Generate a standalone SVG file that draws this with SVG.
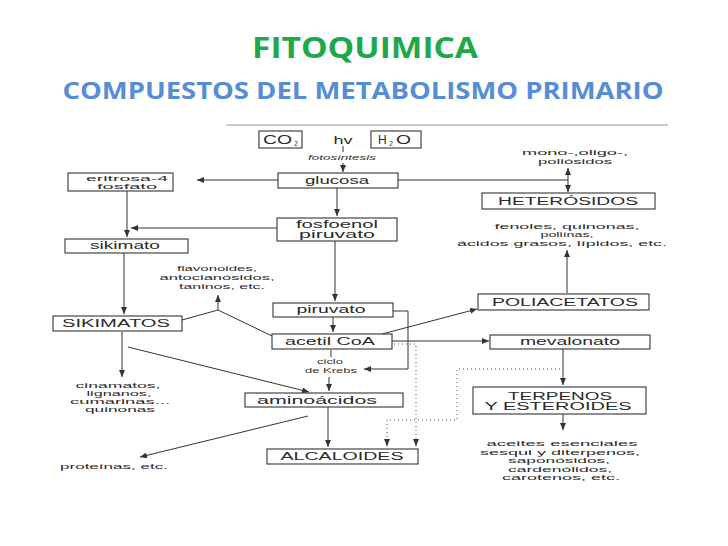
<svg xmlns="http://www.w3.org/2000/svg" width="728" height="546" viewBox="0 0 728 546">
<style>
.bx{fill:#fff;stroke:#333;stroke-width:1.1}
.t{font-family:"Liberation Sans",Arial,sans-serif;font-size:10px;fill:#2a2a2a;text-anchor:middle}
.st{font-family:"Liberation Sans",Arial,sans-serif;font-size:12px;fill:#2a2a2a;text-anchor:start}
.m{font-family:"Liberation Sans",Arial,sans-serif;font-size:8px;fill:#2a2a2a;text-anchor:middle}
.s{font-family:"Liberation Sans",Arial,sans-serif;font-size:6.5px;fill:#333;text-anchor:middle}
.c{fill:none;stroke:#333;stroke-width:1}
.d{fill:none;stroke:#555;stroke-width:1;stroke-dasharray:1 3}
</style>
<defs>
<marker id="a" markerUnits="userSpaceOnUse" markerWidth="7" markerHeight="6" refX="7" refY="3" orient="auto">
<path d="M0,0 L7,3 L0,6 z" fill="#333"/>
</marker>
<marker id="as" markerUnits="userSpaceOnUse" markerWidth="7" markerHeight="6" refX="0" refY="3" orient="auto">
<path d="M7,0 L0,3 L7,6 z" fill="#333"/>
</marker>
</defs>
<rect width="728" height="546" fill="#fff"/>
<g id="title">
<text x="365" y="58" font-family="'Open Sans','Liberation Sans',sans-serif" font-weight="bold" font-size="29" fill="#1fa84a" text-anchor="middle" textLength="226" lengthAdjust="spacingAndGlyphs">FITOQUIMICA</text>
<text x="363" y="99" font-family="'Open Sans','Liberation Sans',sans-serif" font-weight="bold" font-size="24" fill="#558ed5" text-anchor="middle" textLength="601" lengthAdjust="spacingAndGlyphs">COMPUESTOS DEL METABOLISMO PRIMARIO</text>
</g>
<line x1="226" y1="125" x2="668" y2="125" stroke="#999" stroke-width="1"/>
<g id="connectors">
<path class="c" d="M343,146 V152"/>
<path class="c" d="M343,163 V172" marker-end="url(#a)"/>
<path class="c" d="M278,180 H197" marker-end="url(#a)"/>
<path class="c" d="M398,180 H568"/>
<path class="c" d="M568,168 V192" marker-start="url(#as)" marker-end="url(#a)"/>
<path class="c" d="M337,188 V216" marker-end="url(#a)"/>
<path class="c" d="M277,228 H131" marker-end="url(#a)"/>
<path class="c" d="M127,191 V237" marker-end="url(#a)"/>
<path class="c" d="M335,241 V301" marker-end="url(#a)"/>
<path class="c" d="M124,253 V314" marker-end="url(#a)"/>
<path class="c" d="M182,320 L218,310 L272,336"/>
<path class="c" d="M218,310 V295" marker-end="url(#a)"/>
<path class="c" d="M333,317 V332" marker-end="url(#a)"/>
<path class="c" d="M393,311 H408 V369 H364" marker-end="url(#a)"/>
<path class="c" d="M382,334 L477,309" marker-end="url(#a)"/>
<path class="c" d="M567,293 V250" marker-end="url(#a)"/>
<path class="c" d="M392,341 H489" marker-end="url(#a)"/>
<path class="c" d="M331,350 V357"/>
<path class="c" d="M329,377 V391" marker-end="url(#a)"/>
<path class="c" d="M122,332 V377" marker-end="url(#a)"/>
<path class="c" d="M128,347 L309,392" marker-end="url(#a)"/>
<path class="c" d="M328,407 V447" marker-end="url(#a)"/>
<path class="c" d="M308,416 L140,457" marker-end="url(#a)"/>
<path class="c" d="M563,349 V385" marker-end="url(#a)"/>
<path class="c" d="M563,414 V430" marker-end="url(#a)"/>
<path class="d" d="M560,369 H457 V420 H387 V440"/>
<path class="d" d="M394,344 H416 V440"/>
<path class="c" d="M387,440 V446" marker-end="url(#a)"/>
<path class="c" d="M416,440 V446" marker-end="url(#a)"/>
</g>
<g id="co2"><rect class="bx" x="259" y="131" width="43" height="17"/><text class="st" x="263" y="144" textLength="29" lengthAdjust="spacingAndGlyphs">CO</text><text class="s" x="296" y="146">2</text></g>
<g id="hv"><text class="t" x="343" y="144" font-size="12" textLength="19" lengthAdjust="spacingAndGlyphs">hv</text></g>
<g id="h2o"><rect class="bx" x="371" y="131" width="50" height="17"/><text class="st" x="378" y="144">H</text><text class="s" x="391" y="146">2</text><text class="st" x="396" y="144" textLength="15" lengthAdjust="spacingAndGlyphs">O</text></g>
<g id="fotosintesis"><text class="s" x="342" y="160" font-style="italic" textLength="68" lengthAdjust="spacingAndGlyphs">fotosíntesis</text></g>
<g id="eritrosa"><rect class="bx" x="68" y="173" width="105" height="18"/><text class="m" x="127" y="181" textLength="82" lengthAdjust="spacingAndGlyphs">eritrosa-4</text><text class="m" x="127" y="189" textLength="60" lengthAdjust="spacingAndGlyphs">fosfato</text></g>
<g id="glucosa"><rect class="bx" x="278" y="173" width="120" height="15"/><text class="t" x="337" y="184" textLength="64" lengthAdjust="spacingAndGlyphs">glucosa</text></g>
<g id="fosfoenol"><rect class="bx" x="277" y="218" width="120" height="23"/><text class="t" x="337" y="228" textLength="82" lengthAdjust="spacingAndGlyphs">fosfoenol</text><text class="t" x="337" y="238" textLength="76" lengthAdjust="spacingAndGlyphs">piruvato</text></g>
<g id="sikimato"><rect class="bx" x="65" y="239" width="123" height="14"/><text class="t" x="125" y="249" textLength="70" lengthAdjust="spacingAndGlyphs">sikimato</text></g>
<g id="mono"><text class="m" x="575" y="155" textLength="106" lengthAdjust="spacingAndGlyphs">mono-,oligo-,</text><text class="m" x="575" y="164" textLength="74" lengthAdjust="spacingAndGlyphs">poliósidos</text></g>
<g id="heterosidos"><rect class="bx" x="482" y="193" width="173" height="16"/><text class="t" x="568" y="205" textLength="140" lengthAdjust="spacingAndGlyphs">HETERÓSIDOS</text></g>
<g id="fenoles"><text class="m" x="567" y="229" textLength="145" lengthAdjust="spacingAndGlyphs">fenoles, quinonas,</text><text class="m" x="567" y="237" textLength="53" lengthAdjust="spacingAndGlyphs">poliínas,</text><text class="m" x="562" y="246" textLength="210" lengthAdjust="spacingAndGlyphs">ácidos grasos, lípidos, etc.</text></g>
<g id="flavonoides"><text class="m" x="217" y="271" textLength="80" lengthAdjust="spacingAndGlyphs">flavonoides,</text><text class="m" x="217" y="280" textLength="115" lengthAdjust="spacingAndGlyphs">antocianósidos,</text><text class="m" x="222" y="289" textLength="86" lengthAdjust="spacingAndGlyphs">taninos, etc.</text></g>
<g id="sikimatos"><rect class="bx" x="53" y="316" width="129" height="15"/><text class="t" x="116" y="327" textLength="108" lengthAdjust="spacingAndGlyphs">SIKIMATOS</text></g>
<g id="piruvato"><rect class="bx" x="273" y="303" width="120" height="14"/><text class="t" x="331" y="313" textLength="69" lengthAdjust="spacingAndGlyphs">piruvato</text></g>
<g id="acetilcoa"><rect class="bx" x="272" y="334" width="120" height="15"/><text class="t" x="330" y="345" textLength="90" lengthAdjust="spacingAndGlyphs">acetil CoA</text></g>
<g id="poliacetatos"><rect class="bx" x="478" y="294" width="171" height="16"/><text class="t" x="565" y="306" textLength="146" lengthAdjust="spacingAndGlyphs">POLIACETATOS</text></g>
<g id="mevalonato"><rect class="bx" x="490" y="335" width="160" height="14"/><text class="t" x="570" y="345" textLength="100" lengthAdjust="spacingAndGlyphs">mevalonato</text></g>
<g id="krebs"><text class="s" x="330" y="364" textLength="26" lengthAdjust="spacingAndGlyphs">ciclo</text><text class="s" x="331" y="373" textLength="52" lengthAdjust="spacingAndGlyphs">de Krebs</text></g>
<g id="cinamatos"><text class="m" x="118" y="388" textLength="85" lengthAdjust="spacingAndGlyphs">cinamatos,</text><text class="m" x="119" y="396" textLength="65" lengthAdjust="spacingAndGlyphs">lignanos,</text><text class="m" x="120" y="404" textLength="100" lengthAdjust="spacingAndGlyphs">cumarinas...</text><text class="m" x="120" y="412" textLength="70" lengthAdjust="spacingAndGlyphs">quinonas</text></g>
<g id="aminoacidos"><rect class="bx" x="245" y="393" width="158" height="14"/><text class="t" x="317" y="404" textLength="120" lengthAdjust="spacingAndGlyphs">aminoácidos</text></g>
<g id="terpenos"><rect class="bx" x="473" y="387" width="173" height="27"/><text class="t" x="560" y="400" textLength="104" lengthAdjust="spacingAndGlyphs">TERPENOS</text><text class="t" x="558" y="410" textLength="147" lengthAdjust="spacingAndGlyphs">Y ESTEROIDES</text></g>
<g id="alcaloides"><rect class="bx" x="267" y="449" width="151" height="15"/><text class="t" x="342" y="460" textLength="123" lengthAdjust="spacingAndGlyphs">ALCALOIDES</text></g>
<g id="proteinas"><text class="m" x="114" y="469" textLength="108" lengthAdjust="spacingAndGlyphs">proteínas, etc.</text></g>
<g id="aceites"><text class="m" x="562" y="446" textLength="151" lengthAdjust="spacingAndGlyphs">aceites esenciales</text><text class="m" x="560" y="455" textLength="160" lengthAdjust="spacingAndGlyphs">sesqui y diterpenos,</text><text class="m" x="559" y="463" textLength="102" lengthAdjust="spacingAndGlyphs">saponósidos,</text><text class="m" x="560" y="472" textLength="104" lengthAdjust="spacingAndGlyphs">cardenólidos,</text><text class="m" x="561" y="480" textLength="118" lengthAdjust="spacingAndGlyphs">carotenos, etc.</text></g>
</svg>
